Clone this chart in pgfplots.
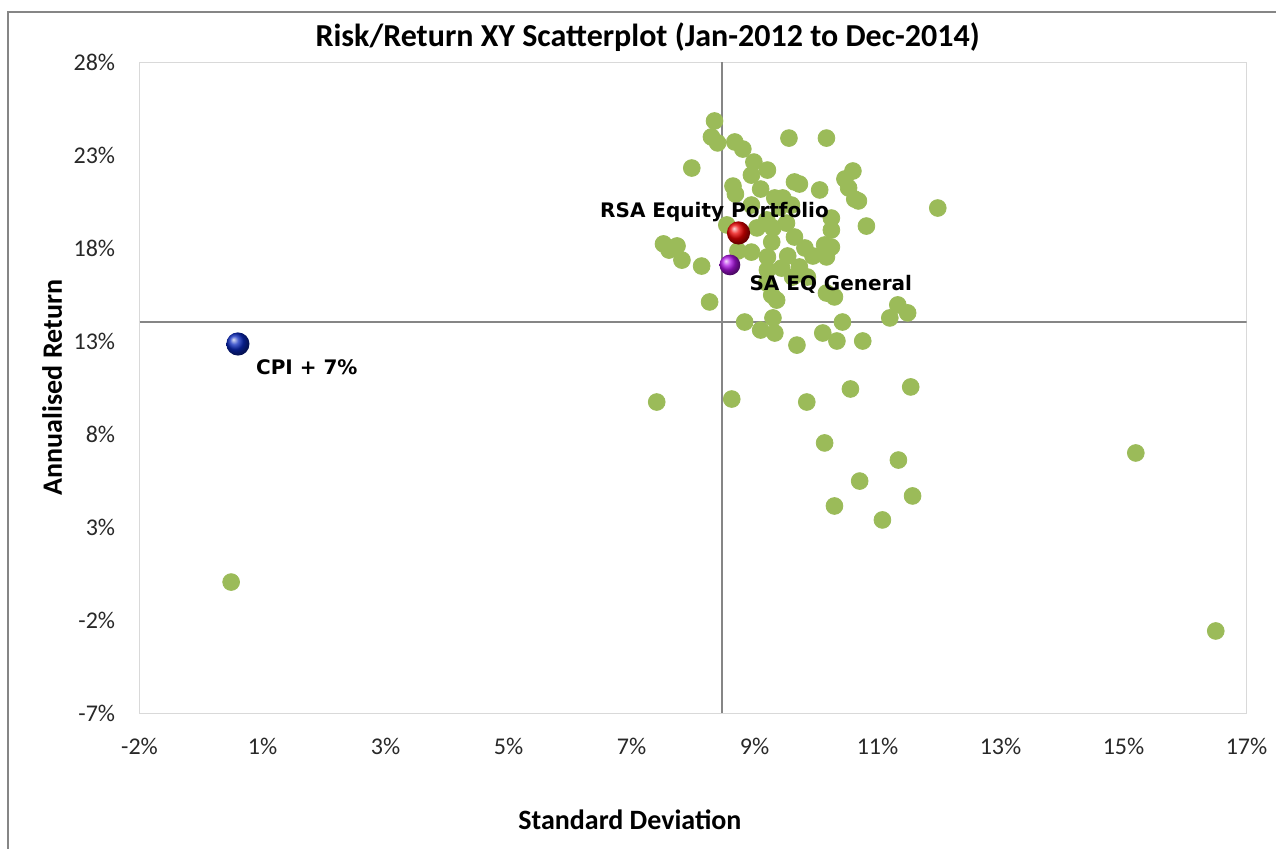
\documentclass[border=0pt]{standalone}
\usepackage{fontspec}
\setmainfont{Carlito}
\newfontfamily\dejavu{DejaVu Sans}
\usepackage{pgfplots}
\usepackage{pgfplotstable}
\pgfplotsset{compat=1.18}

\definecolor{ptgreen}{RGB}{155,187,89}
\definecolor{refgray}{RGB}{134,134,134}
\definecolor{plotframe}{RGB}{217,217,217}
\definecolor{chartframe}{RGB}{134,134,134}
\definecolor{ticktext}{RGB}{40,40,40}

% Peer funds: standard deviation (%) and annualised return (%)
\pgfplotstableread{
x y
7.85 24.83
7.80 23.97
7.90 23.65
8.18 23.70
8.31 23.32
7.48 22.30
8.49 22.62
8.45 21.92
8.71 22.19
9.06 23.91
9.67 23.91
8.15 21.33
8.19 20.90
8.60 21.17
8.45 20.31
8.83 20.69
8.96 20.69
9.15 21.55
9.23 21.44
9.56 21.12
10.10 22.14
9.97 21.71
10.03 21.23
10.13 20.63
10.19 20.53
11.48 20.15
8.91 20.20
9.10 20.31
9.75 19.61
10.32 19.18
9.75 18.97
9.02 19.34
8.70 19.51
8.05 19.24
8.54 19.08
8.80 19.08
7.02 18.22
7.24 18.11
7.11 17.89
7.32 17.35
7.64 17.03
8.23 17.84
8.45 17.78
8.78 18.32
8.71 17.52
8.71 16.82
8.94 16.92
9.15 18.59
9.04 17.57
9.32 18.00
9.45 17.57
9.75 18.05
9.64 18.16
9.23 16.98
9.12 16.44
9.36 16.44
9.67 17.52
7.77 15.10
8.78 15.47
8.86 15.20
8.70 16.12
9.67 15.58
9.80 15.37
8.34 14.02
8.80 14.24
8.60 13.59
8.83 13.43
9.93 14.02
9.61 13.43
9.84 13.00
10.26 13.00
9.19 12.78
10.70 14.24
10.83 14.94
10.99 14.51
6.91 9.72
8.13 9.88
9.35 9.72
10.06 10.42
11.04 10.53
9.64 7.52
10.84 6.60
10.21 5.47
11.07 4.67
9.80 4.13
10.58 3.38
14.70 6.98
16.00 -2.59
-0.01 0.04
}\peers

\begin{document}
\begin{tikzpicture}
\useasboundingbox (0,0) rectangle (638pt,424pt);
\draw[chartframe, line width=0.8pt] (4pt,-2pt) -- (4pt,418pt) -- (642pt,418pt);
\begin{axis}[
  at={(69.75pt,67.5pt)}, anchor=south west,
  scale only axis, width=553.5pt, height=325.5pt,
  xmin=-1.5, xmax=16.5, ymin=-7, ymax=28,
  axis line style={draw=plotframe, line width=0.5pt},
  major tick length=0pt,
  xtick={-1.5,0.5,2.5,4.5,6.5,8.5,10.5,12.5,14.5,16.5},
  xticklabels={-2\%,1\%,3\%,5\%,7\%,9\%,11\%,13\%,15\%,17\%},
  ytick={-7,-2,3,8,13,18,23,28},
  yticklabels={-7\%,-2\%,3\%,8\%,13\%,18\%,23\%,28\%},
  xticklabel style={anchor=center, yshift=-16.5pt, text=ticktext,
    font=\fontsize{12}{14}\selectfont},
  yticklabel style={anchor=east, inner sep=0pt, xshift=-12pt, text=ticktext,
    font=\fontsize{12}{14}\selectfont},
  title={Risk/Return XY Scatterplot (Jan-2012 to Dec-2014)},
  title style={at={(axis description cs:0.459,1)}, anchor=base, yshift=2pt,
    font=\bfseries\fontsize{16}{19}\selectfont},
  xlabel={Standard Deviation},
  xlabel style={at={(axis description cs:0.443,0)}, anchor=center, yshift=-53.5pt,
    font=\bfseries\fontsize{14}{17}\selectfont},
  ylabel={Annualised Return},
  ylabel style={at={(axis description cs:-0.079,0.5)}, anchor=center,
    font=\bfseries\fontsize{14}{17}\selectfont},
]
% quadrant reference lines
\addplot[refgray, line width=1pt, forget plot] coordinates {(7.97,-7) (7.97,28)};
\addplot[refgray, line width=1pt, forget plot] coordinates {(-1.5,14.02) (16.5,14.02)};
% peer universe
\addplot[only marks, mark=*, mark size=4.2pt,
  mark options={draw=ptgreen, fill=ptgreen}] table {\peers};
% highlighted series
\addplot[only marks, mark=ball, mark size=5.8pt,
  mark options={draw opacity=0, ball color={rgb,255:red,235;green,0;blue,0}}] coordinates {(8.24,18.81)};
\addplot[only marks, mark=ball, mark size=5.2pt,
  mark options={draw opacity=0, ball color={rgb,255:red,175;green,20;blue,230}}] coordinates {(8.10,17.09)};
\addplot[only marks, mark=ball, mark size=5.8pt,
  mark options={draw opacity=0, ball color={rgb,255:red,10;green,40;blue,190}}] coordinates {(0.10,12.84)};
% anchor points for the data labels
\coordinate (lblRSA) at (axis cs:7.85,19.94);
\coordinate (lblSAEQ) at (axis cs:9.74,16.06);
\coordinate (lblCPI) at (axis cs:1.22,11.60);
\end{axis}
% data labels, drawn above the markers
\node[font=\dejavu\bfseries\fontsize{10}{12}\selectfont] at (lblRSA) {RSA Equity Portfolio};
\node[font=\dejavu\bfseries\fontsize{10}{12}\selectfont] at (lblSAEQ) {SA EQ General};
\node[font=\dejavu\bfseries\fontsize{10}{12}\selectfont] at (lblCPI) {CPI + 7\%};
\end{tikzpicture}
\end{document}
